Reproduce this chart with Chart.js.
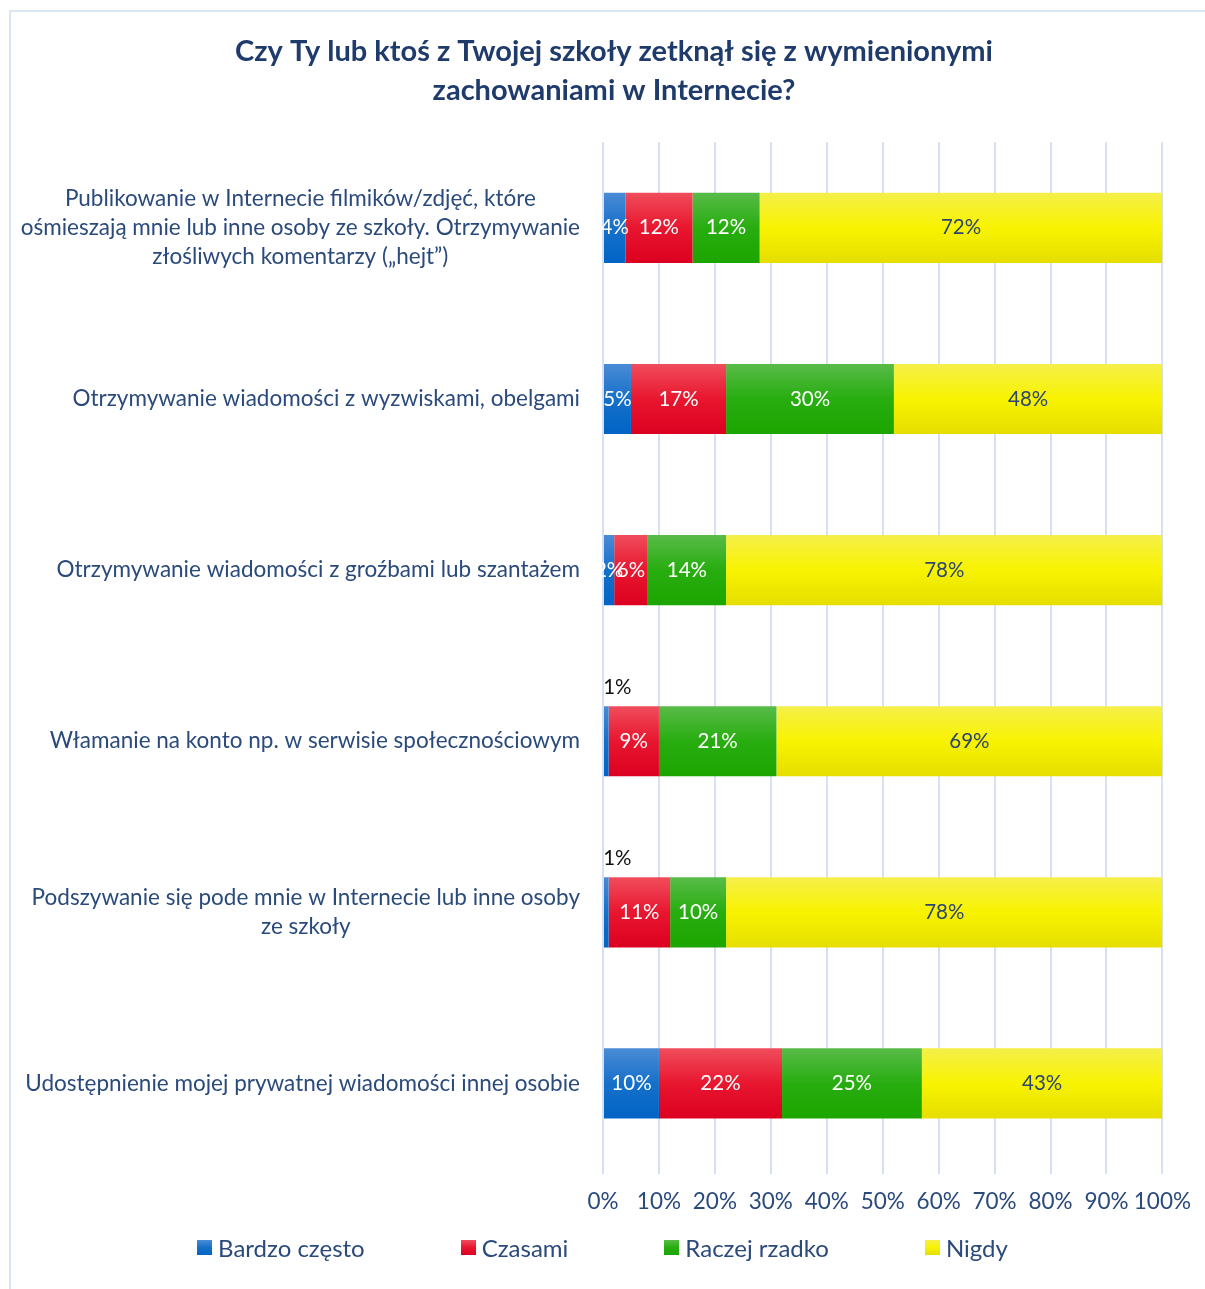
<!DOCTYPE html>
<html>
<head>
<meta charset="utf-8">
<title>Zachowania w Internecie</title>
<script src="https://cdn.jsdelivr.net/npm/chart.js@4.4.1/dist/chart.umd.min.js"></script>
<style>
  html, body { margin: 0; padding: 0; background: #ffffff; overflow: hidden; }
  #wrap { position: relative; width: 1205px; height: 1289px; }
  #chart { position: absolute; left: 0; top: 0; }
  #frame { position: absolute; left: 9px; top: 10px; width: 1220px; height: 1300px;
           border-left: 2px solid #dbe5f3; border-top: 2px solid #dbe5f3; pointer-events: none; }
  #legend { position: absolute; left: 0; top: 1233px; width: 1205px; display: flex; justify-content: center;
            font-family: Lato, "Open Sans", sans-serif; font-size: 24px; line-height: 29px; color: #2a4a7c; }
  #legend .item { display: flex; align-items: center; margin: 0 48px; white-space: nowrap; }
  #legend .box { width: 15px; height: 15px; margin-right: 6px; }
</style>
</head>
<body>
<div id="wrap">
  <canvas id="chart" width="1205" height="1289"></canvas>
  <div id="frame"></div>
  <div id="legend"></div>
</div>
<script>
// Survey question and answers (percent of respondents)
const titleLines = ['Czy Ty lub ktoś z Twojej szkoły zetknął się z wymienionymi', 'zachowaniami w Internecie?'];

const categories = [
  ['Publikowanie w Internecie filmików/zdjęć, które', 'ośmieszają mnie lub inne osoby ze szkoły. Otrzymywanie', 'złośliwych komentarzy („hejt”)'],
  ['Otrzymywanie wiadomości z wyzwiskami, obelgami'],
  ['Otrzymywanie wiadomości z groźbami lub szantażem'],
  ['Włamanie na konto np. w serwisie społecznościowym'],
  ['Podszywanie się pode mnie w Internecie lub inne osoby', 'ze szkoły'],
  ['Udostępnienie mojej prywatnej wiadomości innej osobie']
];

const seriesNames = ['Bardzo często', 'Czasami', 'Raczej rzadko', 'Nigdy'];
const bardzoCzesto = [4, 5, 2, 1, 1, 10];
const czasami      = [12, 17, 6, 9, 11, 22];
const raczejRzadko = [12, 30, 14, 21, 10, 25];
const nigdy        = [72, 48, 78, 69, 78, 43];

const xTickValues = [0, 10, 20, 30, 40, 50, 60, 70, 80, 90, 100];

// Fill styles: top, middle, bottom of each bar
const fills = [
  ['#4a8bd6', '#1670c9', '#0064c6'],
  ['#f04d5c', '#e8162f', '#dc0020'],
  ['#58bb48', '#28ad10', '#1ca500'],
  ['#f5ef4a', '#f8f300', '#e5de00']
];
const labelColors = ['#ffffff', '#ffffff', '#ffffff', '#2b4570'];
const navy = '#1f3b6b';
const textBlue = '#2a4a7c';
const fontFamily = 'Lato, "Open Sans", sans-serif';

function barFill(stops) {
  return function (ctx) {
    const chart = ctx.chart;
    if (!chart.chartArea || ctx.type !== 'data' || !chart.scales.y) return stops[1];
    const c = chart.scales.y.getPixelForValue(ctx.dataIndex);
    const h = 35;
    const g = chart.ctx.createLinearGradient(0, c - h, 0, c + h);
    g.addColorStop(0, stops[0]);
    g.addColorStop(0.5, stops[1]);
    g.addColorStop(1, stops[2]);
    return g;
  };
}

const seriesValues = [bardzoCzesto, czasami, raczejRzadko, nigdy];
const datasets = seriesNames.map((name, i) => ({
  label: name,
  data: seriesValues[i],
  backgroundColor: barFill(fills[i]),
  borderWidth: 0,
  categoryPercentage: 0.82,
  barPercentage: 0.5
}));

// Multi-line category labels, each line centred within its block, block right-aligned to the axis
const categoryLabels = {
  id: 'categoryLabels',
  afterDraw(chart) {
    const { ctx, chartArea, scales } = chart;
    ctx.save();
    ctx.font = '22.5px ' + fontFamily;
    ctx.fillStyle = textBlue;
    ctx.textAlign = 'center';
    ctx.textBaseline = 'middle';
    const lh = 29;
    const right = chartArea.left - 23;
    categories.forEach((lines, i) => {
      const yc = scales.y.getPixelForValue(i);
      const w = Math.max(...lines.map(l => ctx.measureText(l).width));
      const cx = right - w / 2;
      const y0 = yc - (lines.length - 1) * lh / 2;
      lines.forEach((l, k) => ctx.fillText(l, cx, y0 + k * lh));
    });
    ctx.restore();
  }
};

// Percent labels inside each segment; tiny segments get their label above the bar
const segmentLabels = {
  id: 'segmentLabels',
  afterDatasetsDraw(chart) {
    const ctx = chart.ctx;
    ctx.save();
    ctx.font = '20.5px ' + fontFamily;
    ctx.textAlign = 'center';
    ctx.textBaseline = 'middle';
    chart.data.datasets.forEach((ds, i) => {
      const meta = chart.getDatasetMeta(i);
      meta.data.forEach((bar, j) => {
        const v = ds.data[j];
        const p = bar.getProps(['x', 'y', 'base', 'height'], true);
        const cx = (p.x + p.base) / 2;
        if (v <= 1) {
          ctx.fillStyle = '#111111';
          ctx.fillText(v + '%', cx + 11, p.y - p.height / 2 - 19);
        } else {
          ctx.fillStyle = labelColors[i];
          ctx.fillText(v + '%', cx, p.y);
        }
      });
    });
    ctx.restore();
  }
};

new Chart(document.getElementById('chart'), {
  type: 'bar',
  data: { labels: categories.map(c => c.join(' ')), datasets },
  options: {
    indexAxis: 'y',
    responsive: false,
    animation: false,
    layout: { padding: { left: 65, right: 42, top: 0, bottom: 60 } },
    plugins: {
      legend: { display: false },
      tooltip: { enabled: false },
      title: {
        display: true,
        text: titleLines,
        color: navy,
        font: { family: fontFamily, size: 29, weight: 'bold', lineHeight: 1.35 },
        padding: { top: 32, bottom: 32 }
      }
    },
    scales: {
      x: {
        stacked: true,
        min: 0,
        max: 100,
        afterBuildTicks(scale) { scale.ticks = xTickValues.map(v => ({ value: v })); },
        ticks: {
          color: textBlue,
          font: { family: fontFamily, size: 22.5 },
          padding: 14,
          maxRotation: 0,
          minRotation: 0,
          autoSkip: false,
          callback: v => v + '%'
        },
        grid: { color: '#d5e1f2', lineWidth: 2, tickLength: 5, drawTicks: true },
        border: { display: false }
      },
      y: {
        stacked: true,
        ticks: { display: false },
        grid: { display: false },
        border: { display: false },
        afterFit(scale) { scale.width = 538; }
      }
    }
  },
  plugins: [categoryLabels, segmentLabels]
});

// Legend
const legend = document.getElementById('legend');
seriesNames.forEach((name, i) => {
  const item = document.createElement('div');
  item.className = 'item';
  const box = document.createElement('span');
  box.className = 'box';
  box.style.background = 'linear-gradient(' + fills[i][0] + ',' + fills[i][1] + ',' + fills[i][2] + ')';
  const txt = document.createElement('span');
  txt.textContent = name;
  item.appendChild(box);
  item.appendChild(txt);
  legend.appendChild(item);
});
</script>
</body>
</html>
